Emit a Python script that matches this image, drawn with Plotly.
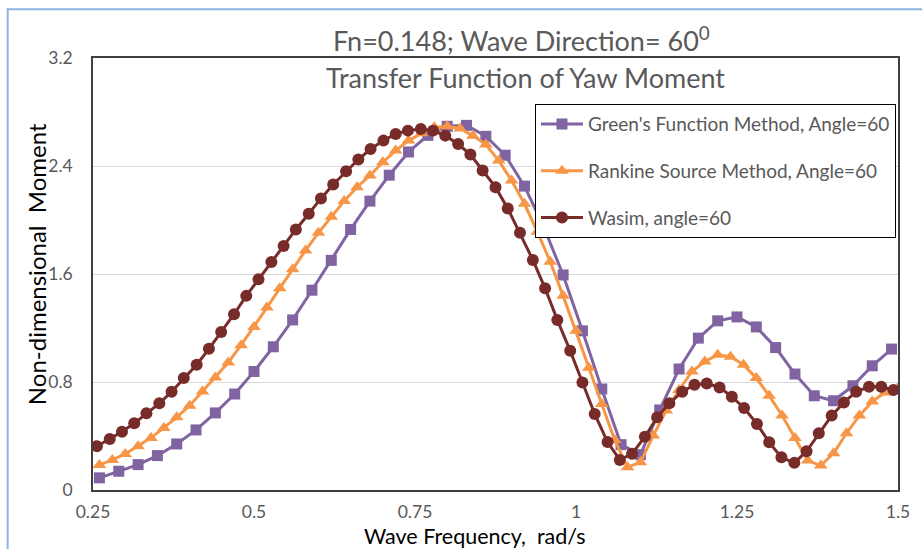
import plotly.graph_objects as go

# ---- data ----
green_x = [0.26, 0.29, 0.32, 0.35, 0.38, 0.41, 0.44, 0.47, 0.50, 0.53, 0.56, 0.59, 0.62, 0.65,
           0.68, 0.71, 0.74, 0.77, 0.80, 0.83, 0.86, 0.89, 0.92, 0.95, 0.98, 1.01, 1.04, 1.07,
           1.10, 1.13, 1.16, 1.19, 1.22, 1.25, 1.28, 1.31, 1.34, 1.37, 1.40, 1.43, 1.46, 1.49]
green_y = [0.090, 0.139, 0.188, 0.255, 0.341, 0.445, 0.571, 0.711, 0.878, 1.061, 1.260, 1.480,
           1.701, 1.930, 2.140, 2.332, 2.504, 2.627, 2.694, 2.701, 2.620, 2.480, 2.251, 1.948,
           1.593, 1.179, 0.748, 0.336, 0.262, 0.593, 0.896, 1.125, 1.253, 1.282, 1.208, 1.055,
           0.859, 0.698, 0.661, 0.772, 0.920, 1.044]

rankine_x = [0.26, 0.28, 0.30, 0.32, 0.34, 0.36, 0.38, 0.40, 0.42, 0.44, 0.46, 0.48, 0.50, 0.52,
             0.54, 0.56, 0.58, 0.60, 0.62, 0.64, 0.66, 0.68, 0.70, 0.72, 0.74, 0.76, 0.78, 0.80,
             0.82, 0.84, 0.86, 0.88, 0.90, 0.92, 0.94, 0.96, 0.98, 1.00, 1.02, 1.04, 1.06, 1.08,
             1.10, 1.12, 1.14, 1.16, 1.18, 1.20, 1.22, 1.24, 1.26, 1.28, 1.30, 1.32, 1.34, 1.36,
             1.38, 1.40, 1.42, 1.44, 1.46, 1.48, 1.50]
rankine_y = [0.186, 0.223, 0.267, 0.324, 0.386, 0.460, 0.538, 0.625, 0.730, 0.834, 0.945, 1.073,
             1.208, 1.351, 1.494, 1.635, 1.775, 1.905, 2.024, 2.140, 2.243, 2.330, 2.428, 2.514,
             2.588, 2.642, 2.687, 2.694, 2.677, 2.625, 2.559, 2.440, 2.293, 2.120, 1.913, 1.691,
             1.438, 1.179, 0.905, 0.637, 0.371, 0.169, 0.205, 0.403, 0.588, 0.741, 0.878, 0.952,
             1.001, 0.987, 0.928, 0.829, 0.698, 0.551, 0.386, 0.218, 0.181, 0.272, 0.420, 0.551,
             0.656, 0.723, 0.755]

wasim_x = [0.256, 0.276, 0.295, 0.314, 0.333, 0.353, 0.372, 0.391, 0.411, 0.430, 0.449, 0.469,
           0.488, 0.507, 0.527, 0.546, 0.565, 0.585, 0.604, 0.623, 0.643, 0.662, 0.681, 0.701,
           0.720, 0.739, 0.759, 0.778, 0.797, 0.817, 0.836, 0.855, 0.875, 0.894, 0.913, 0.933,
           0.952, 0.971, 0.991, 1.010, 1.029, 1.049, 1.068, 1.087, 1.107, 1.126, 1.145, 1.165,
           1.184, 1.203, 1.223, 1.242, 1.261, 1.281, 1.300, 1.319, 1.339, 1.358, 1.377, 1.397,
           1.416, 1.435, 1.455, 1.474, 1.493]
wasim_y = [0.324, 0.378, 0.432, 0.494, 0.568, 0.642, 0.728, 0.829, 0.928, 1.046, 1.171, 1.302,
           1.438, 1.561, 1.689, 1.807, 1.930, 2.046, 2.160, 2.263, 2.361, 2.448, 2.526, 2.588,
           2.637, 2.662, 2.674, 2.662, 2.625, 2.563, 2.485, 2.367, 2.243, 2.086, 1.905, 1.704,
           1.494, 1.260, 1.031, 0.797, 0.563, 0.355, 0.223, 0.268, 0.395, 0.538, 0.642, 0.728,
           0.780, 0.789, 0.760, 0.691, 0.608, 0.489, 0.353, 0.242, 0.201, 0.287, 0.420, 0.551,
           0.649, 0.728, 0.765, 0.765, 0.741]

x_tickvals = [0.25, 0.5, 0.75, 1.0, 1.25, 1.5]
x_ticktext = ["0.25", "0.5", "0.75", "1", "1.25", "1.5"]
y_tickvals = [0, 0.8, 1.6, 2.4, 3.2]
y_ticktext = ["0", "0.8", "1.6", "2.4", "3.2"]

series_names = ["Green's Function Method, Angle=60",
                "Rankine Source Method, Angle=60",
                "Wasim, angle=60"]

FONT = "Lato, 'Open Sans', sans-serif"
PURPLE = "#8064A2"
ORANGE = "#F79646"
DARKRED = "#772C2A"

fig = go.Figure()
fig.add_trace(go.Scatter(x=green_x, y=green_y, mode="lines+markers", name=series_names[0],
                         legendgroup="g1",
                         line=dict(color=PURPLE, width=3),
                         marker=dict(symbol="square", size=11, color=PURPLE)))
fig.add_trace(go.Scatter(x=rankine_x, y=rankine_y, mode="lines+markers", name=series_names[1],
                         legendgroup="g2",
                         line=dict(color=ORANGE, width=3),
                         marker=dict(symbol="triangle-up", size=12, color=ORANGE)))
fig.add_trace(go.Scatter(x=wasim_x, y=wasim_y, mode="lines+markers", name=series_names[2],
                         legendgroup="g3",
                         line=dict(color=DARKRED, width=3),
                         marker=dict(symbol="circle", size=12, color=DARKRED)))

fig.update_layout(
    width=922, height=549,
    margin=dict(l=93, r=18, t=58, b=59),
    paper_bgcolor="white", plot_bgcolor="white",
    font=dict(family=FONT, color="#595959"),
    showlegend=True,
    legend=dict(x=0.9975, y=0.893, xanchor="right", yanchor="top",
                bgcolor="white", bordercolor="#000000", borderwidth=1,
                font=dict(family=FONT, size=19, color="#595959"),
                tracegroupgap=19, itemwidth=42),
    xaxis=dict(range=[0.25, 1.5], tickvals=x_tickvals, ticktext=x_ticktext,
               showgrid=False, zeroline=False, showline=True, linecolor="#404040",
               linewidth=1.5, mirror=True, ticks="", ticklabelstandoff=5,
               tickfont=dict(family=FONT, size=17.5, color="#595959")),
    yaxis=dict(range=[0, 3.2], tickvals=y_tickvals, ticktext=y_ticktext,
               showgrid=True, gridcolor="#D9D9D9", gridwidth=1, zeroline=False,
               showline=True, linecolor="#404040", linewidth=1.5, mirror=True,
               ticks="", ticklabelstandoff=15,
               tickfont=dict(family=FONT, size=17.5, color="#595959")),
    annotations=[
        dict(text="Fn=0.148; Wave Direction= 60<sup>0</sup>", xref="paper", yref="paper",
             x=0.532, y=1.043, xanchor="center", yanchor="middle", showarrow=False,
             font=dict(family=FONT, size=27, color="#595959")),
        dict(text="Transfer Function of Yaw Moment", xref="paper", yref="paper",
             x=0.537, y=0.955, xanchor="center", yanchor="middle", showarrow=False,
             font=dict(family=FONT, size=27, color="#595959")),
        dict(text="Wave Frequency,  rad/s", xref="paper", yref="paper",
             x=0.474, y=-0.1055, xanchor="center", yanchor="middle", showarrow=False,
             font=dict(family=FONT, size=21.5, color="#000000")),
        dict(text="Non-dimensional  Moment", xref="paper", yref="paper",
             x=-0.07, y=0.522, xanchor="center", yanchor="middle", showarrow=False,
             textangle=-90, font=dict(family=FONT, size=24, color="#000000")),
    ],
    shapes=[
        dict(type="rect", xref="paper", yref="paper", x0=-0.106, y0=-0.3, x1=1.1, y1=1.113,
             line=dict(color="#8DB3E2", width=2), fillcolor="rgba(0,0,0,0)", layer="below"),
    ],
)

fig.write_html("out.html", config={"displayModeBar": False},
               post_script="document.body.style.margin='0';")
